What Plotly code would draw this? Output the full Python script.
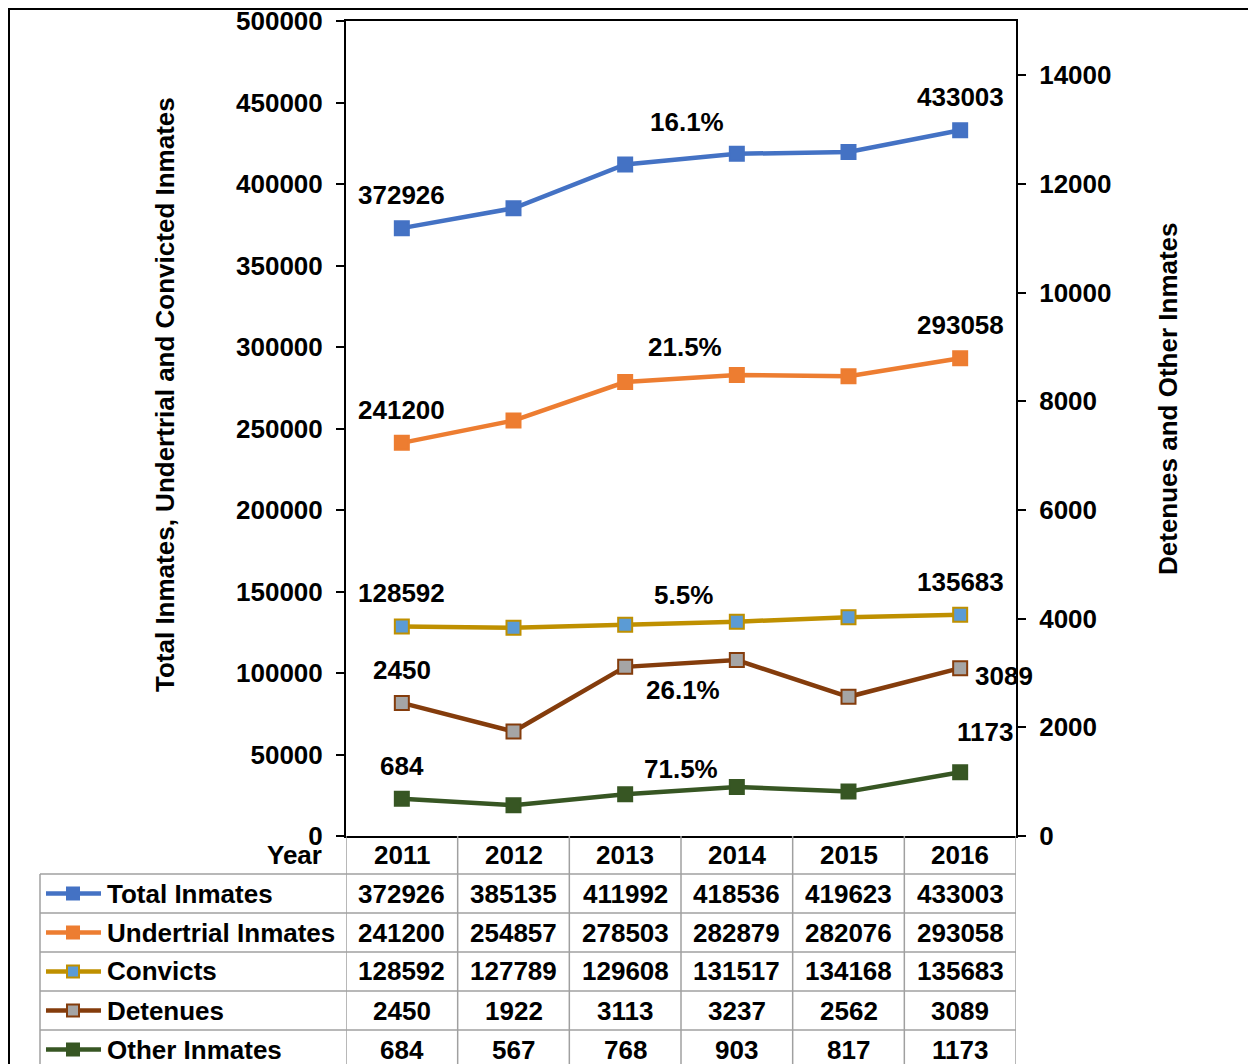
import plotly.graph_objects as go

years = [2011, 2012, 2013, 2014, 2015, 2016]
total = [372926, 385135, 411992, 418536, 419623, 433003]
undertrial = [241200, 254857, 278503, 282879, 282076, 293058]
convicts = [128592, 127789, 129608, 131517, 134168, 135683]
detenues = [2450, 1922, 3113, 3237, 2562, 3089]
others = [684, 567, 768, 903, 817, 1173]
series_names = ["Total Inmates", "Undertrial Inmates", "Convicts", "Detenues", "Other Inmates"]
left_ticks = list(range(0, 500001, 50000))
right_ticks = list(range(0, 14001, 2000))
left_title = "Total Inmates, Undertrial and Convicted Inmates"
right_title = "Detenues and Other Inmates"

# page body has an 8px margin; work in screenshot pixels
OFF = 8
W, H = 1256, 1064
PL, PR, PT, PB = 346, 1016, 21, 836   # plot area in screenshot pixels
PW = PR - PL
PH = PB - PT
FIG_W = W - OFF
FIG_H = H - OFF


def px(x):
    return (x - PL) / PW


def py(y):
    return (PB - y) / PH


FONT = "Liberation Sans, Arial, sans-serif"
FS = 26

series = [
    # name, values, axis, line colour, marker fill, marker border, first-label shift, last-label shift, pct shift
    (series_names[0], total, "y", "#4472C4", "#4472C4", "#4472C4", (0, 33), (0, 33), (6, 37)),
    (series_names[1], undertrial, "y", "#ED7D31", "#ED7D31", "#ED7D31", (0, 33), (0, 33), (4, 31)),
    (series_names[2], convicts, "y", "#BF9000", "#5B9BD5", "#BF9000", (0, 33), (0, 33), (2, 28)),
    (series_names[3], detenues, "y2", "#843C0C", "#A5A5A5", "#843C0C", (0, 33), (44, -8), (2, -27)),
    (series_names[4], others, "y2", "#375623", "#375623", "#375623", (0, 33), (25, 40), (0, 22)),
]

fig = go.Figure()
annotations = []
shapes = []
tfont = dict(family=FONT, size=FS, color="black", weight="bold")

for name, vals, ax, lc, mf, mb, s_first, s_last, s_pct in series:
    fig.add_trace(go.Scatter(
        x=years, y=vals, name=name, yaxis=ax, mode="lines+markers",
        line=dict(color=lc, width=4.5),
        marker=dict(symbol="square", size=14, color=mf, line=dict(color=mb, width=2)),
        showlegend=False, hoverinfo="x+y",
    ))
    yref = "y" if ax == "y" else "y2"
    for idx, sh in ((0, s_first), (-1, s_last)):
        annotations.append(dict(
            x=years[idx], y=vals[idx], xref="x", yref=yref, text=str(vals[idx]),
            showarrow=False, xshift=sh[0], yshift=sh[1], font=tfont,
            xanchor="center", yanchor="middle",
        ))
    pct = (vals[-1] - vals[0]) / vals[0] * 100
    annotations.append(dict(
        x=(years[2] + years[3]) / 2, y=(vals[2] + vals[3]) / 2, xref="x", yref=yref,
        text=f"{pct:.1f}%", showarrow=False, xshift=s_pct[0], yshift=s_pct[1], font=tfont,
        xanchor="center", yanchor="middle",
    ))

# ---- data table below the chart ----
GRID = "#A0A0A0"
row_top = 874
row_h = 39
n_rows = len(series)
bottom_px = H + 5

for i in range(len(years) + 1):
    xv = years[0] - 0.5 + i
    shapes.append(dict(type="line", xref="x", yref="paper", x0=xv, x1=xv,
                       y0=py(PB), y1=py(bottom_px), line=dict(color=GRID, width=1.5)))
shapes.append(dict(type="line", xref="paper", yref="paper", x0=px(40), x1=px(40),
                   y0=py(row_top), y1=py(bottom_px), line=dict(color=GRID, width=1.5)))
for k in range(n_rows):
    yy = row_top + k * row_h
    shapes.append(dict(type="line", xref="paper", yref="paper", x0=px(40), x1=1,
                       y0=py(yy), y1=py(yy), line=dict(color=GRID, width=1.5)))

annotations.append(dict(x=px(324), y=py(855), xref="paper", yref="paper", text="Year",
                        showarrow=False, xanchor="right", yanchor="middle", font=tfont))
for yr in years:
    annotations.append(dict(x=yr, y=py(855), xref="x", yref="paper", text=str(yr),
                            showarrow=False, xanchor="center", yanchor="middle", font=tfont))

for k, (name, vals, ax, lc, mf, mb, *_rest) in enumerate(series):
    cy = row_top + k * row_h + row_h / 2
    shapes.append(dict(type="line", xref="paper", yref="paper", x0=px(46), x1=px(101),
                       y0=py(cy), y1=py(cy), line=dict(color=lc, width=4.5)))
    shapes.append(dict(type="rect", xref="paper", yref="paper", x0=px(67), x1=px(79),
                       y0=py(cy + 6), y1=py(cy - 6), fillcolor=mf, line=dict(color=mb, width=2)))
    annotations.append(dict(x=px(105), y=py(cy), xref="paper", yref="paper", text=name,
                            showarrow=False, xanchor="left", yanchor="middle", font=tfont))
    for yr, v in zip(years, vals):
        annotations.append(dict(x=yr, y=py(cy), xref="x", yref="paper", text=str(v),
                                showarrow=False, xanchor="center", yanchor="middle", font=tfont))

annotations.append(dict(x=px(165), y=py(395), xref="paper", yref="paper", text=left_title,
                        textangle=-90, showarrow=False, font=tfont,
                        xanchor="center", yanchor="middle"))
annotations.append(dict(x=px(1168), y=py(399), xref="paper", yref="paper", text=right_title,
                        textangle=-90, showarrow=False, font=tfont,
                        xanchor="center", yanchor="middle"))

# outer frame
shapes.append(dict(type="rect", xref="paper", yref="paper", x0=px(OFF + 1), x1=px(W + 20),
                   y0=py(H + 20), y1=py(OFF + 1), line=dict(color="black", width=2),
                   fillcolor="rgba(0,0,0,0)", layer="above"))

axis_common = dict(showgrid=False, zeroline=False, showline=True, linecolor="black", linewidth=2,
                   ticks="outside", ticklen=8, tickwidth=2, tickcolor="black",
                   tickfont=tfont, ticklabeloverflow="allow", automargin=False)

fig.update_layout(
    width=FIG_W, height=FIG_H,
    margin=dict(l=PL - OFF, r=FIG_W - (PR - OFF), t=PT - OFF, b=FIG_H - (PB - OFF), pad=0,
                autoexpand=False),
    paper_bgcolor="white", plot_bgcolor="white",
    xaxis=dict(range=[years[0] - 0.5, years[-1] + 0.5], showgrid=False, zeroline=False,
               showline=True, mirror=True, linecolor="black", linewidth=2,
               showticklabels=False, ticks="", automargin=False),
    yaxis=dict(range=[0, 500000], tickvals=left_ticks, ticktext=[str(v) for v in left_ticks],
               ticklabelstandoff=8, **axis_common),
    yaxis2=dict(range=[0, 15000], tickvals=right_ticks, ticktext=[str(v) for v in right_ticks],
                overlaying="y", side="right", ticklabelstandoff=8, **axis_common),
    annotations=annotations,
    shapes=shapes,
    showlegend=False,
)

fig.write_html("out.html")
